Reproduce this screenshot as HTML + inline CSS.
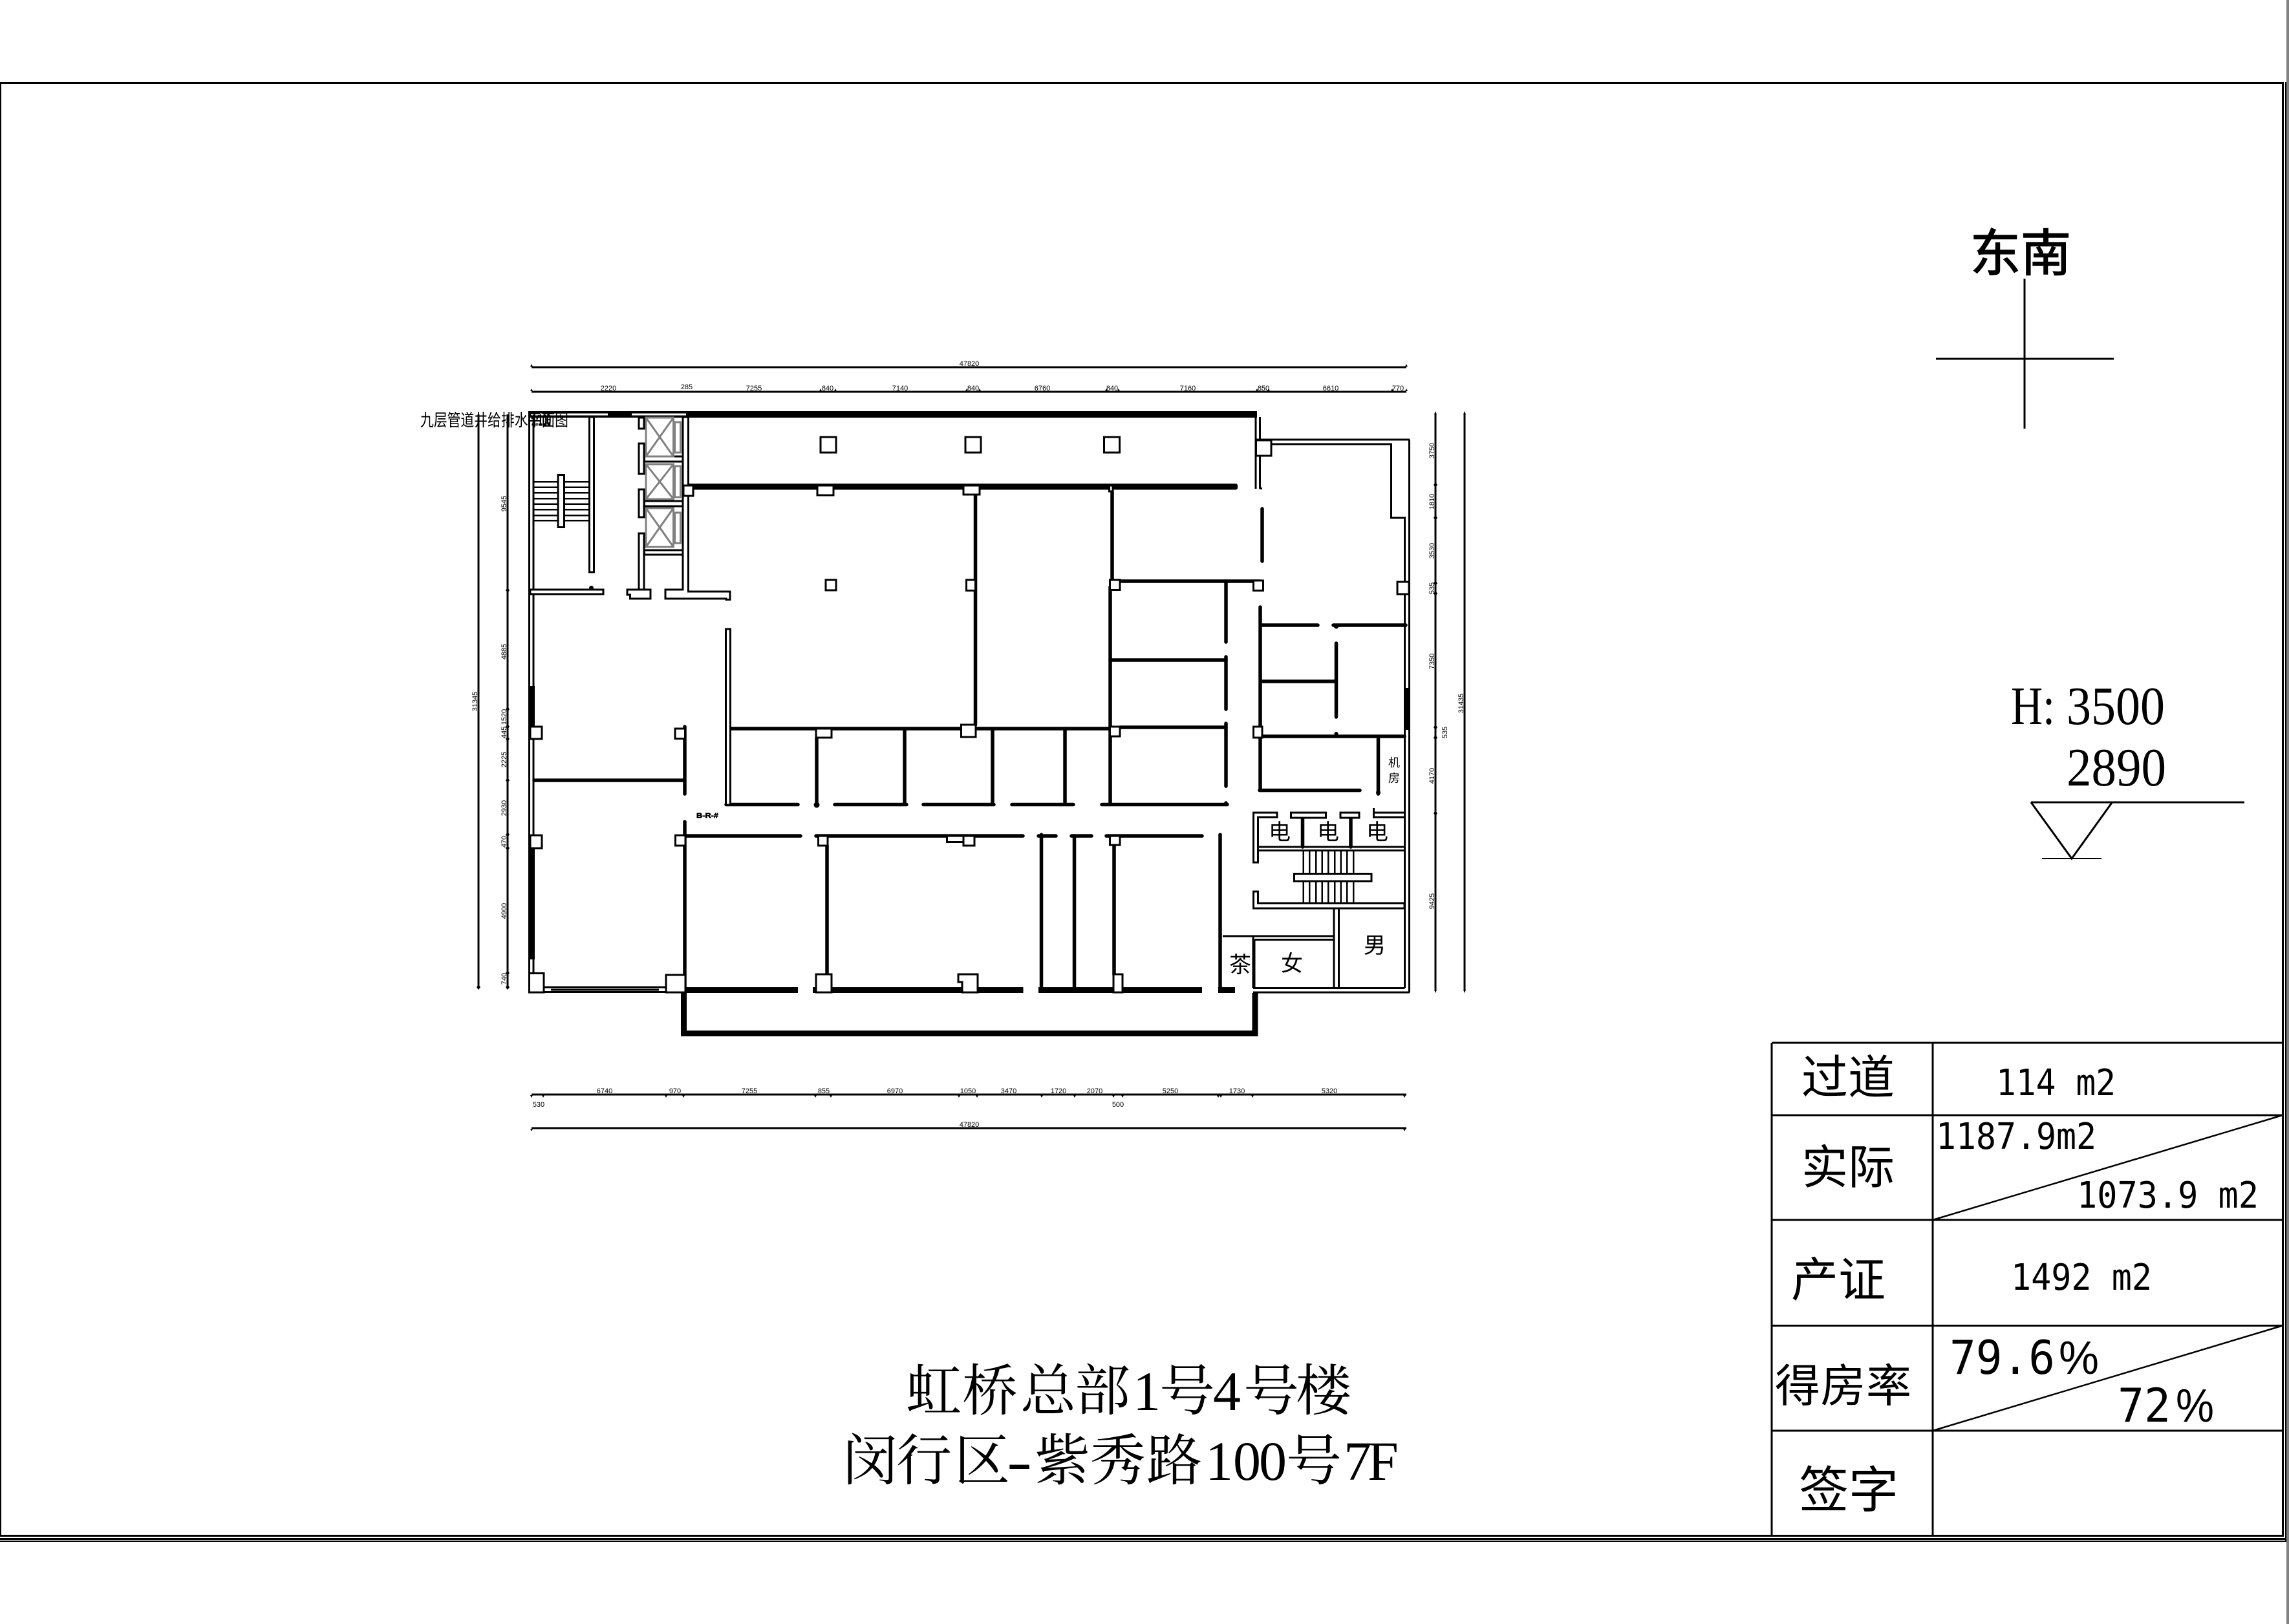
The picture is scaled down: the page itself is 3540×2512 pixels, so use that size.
<!DOCTYPE html>
<html lang="zh"><head><meta charset="utf-8"><title>虹桥总部1号4号楼</title>
<style>
html,body{margin:0;padding:0;background:#fff;width:3540px;height:2512px;overflow:hidden}
svg{display:block}
.s{font-family:"Liberation Sans","Noto Sans CJK SC",sans-serif;fill:#000}
.c{font-family:"Liberation Sans","Noto Sans CJK SC",sans-serif;fill:#000}
.sf{font-family:"Liberation Serif","Noto Serif CJK SC",serif;fill:#000}
.m{font-family:"DejaVu Sans Mono",monospace;fill:#000}
.d{font-family:"Liberation Sans",sans-serif;font-size:11px;fill:#000;text-anchor:middle}
.w{fill:#fff;stroke:#000;stroke-width:3}
</style></head><body>
<svg width="3540" height="2512" viewBox="0 0 3540 2512" xmlns="http://www.w3.org/2000/svg">
<rect width="3540" height="2512" fill="#fff"/>
<!-- page frame -->
<g shape-rendering="crispEdges" fill="#000">
<rect x="3536" y="0" width="4" height="2512" fill="#808080"/>
<rect x="0" y="127" width="3532" height="3"/>
<rect x="0" y="127" width="2" height="2250"/>
<rect x="3529" y="127" width="3" height="2250"/>
<rect x="3534" y="127" width="2" height="2258"/>
<rect x="0" y="2374" width="3532" height="3"/>
<rect x="0" y="2379" width="3536" height="3"/>
<rect x="0" y="2383" width="3536" height="2"/>
</g>
<!-- dimension lines -->
<g stroke="#000" stroke-width="3" shape-rendering="crispEdges" fill="none">
<path d="M822 568H2175M822 606H2175M822 1693H2175M822 1745H2175M740 641V1528M785 641V1528M2220 641V1531M2265 641V1531"/>
</g>
<path fill="#000" d="M820 567l2-4 2 4zM820 605l2-4 2 4zM1267 605l2-4 2 4zM1290 605l2-4 2 4zM1493 605l2-4 2 4zM1513 605l2-4 2 4zM1709 605l2-4 2 4zM1728 605l2-4 2 4zM1942 605l2-4 2 4zM1960 605l2-4 2 4zM2151 605l2-4 2 4zM2173 605l2-4 2 4zM2173 567l2-4 2 4z
M820 1694l2 4 2-4zM838 1694l2 4 2-4zM1028 1694l2 4 2-4zM1055 1694l2 4 2-4zM1259 1694l2 4 2-4zM1283 1694l2 4 2-4zM1481 1694l2 4 2-4zM1509 1694l2 4 2-4zM1609 1694l2 4 2-4zM1660 1694l2 4 2-4zM1720 1694l2 4 2-4zM1734 1694l2 4 2-4zM1882 1694l2 4 2-4zM1886 1694l2 4 2-4zM1935 1694l2 4 2-4zM2170 1694l2 4 2-4zM820 1746l2 4 2-4zM2170 1746l2 4 2-4z
M785 909l3 4-3 4-3-4zM785 1093l3 4-3 4-3-4zM785 1120l3 4-3 4-3-4zM785 1139l3 4-3 4-3-4zM785 1203l3 4-3 4-3-4zM785 1287l3 4-3 4-3-4zM785 1308l3 4-3 4-3-4zM785 1501l3 4-3 4-3-4zM785 1523l3 4-3 4-3-4zM740 1523l3 4-3 4-3-4z
M2220 636l2 5h-4zM2265 636l2 5h-4zM2220 746l3 4-3 4-3-4zM2220 797l3 4-3 4-3-4zM2220 898l3 4-3 4-3-4zM2220 914l3 4-3 4-3-4zM2220 1121l3 4-3 4-3-4zM2220 1137l3 4-3 4-3-4zM2220 1254l3 4-3 4-3-4zM2218 1531l2 5 2-5zM2263 1531l2 5 2-5z"/>
<!-- horizontal dimension labels -->
<g class="d">
<text class="d" x="1499" y="566">47820</text>
<text class="d" x="941" y="604">2220</text><text class="d" x="1062" y="602">285</text><text class="d" x="1166" y="604">7255</text><text class="d" x="1280" y="604">840</text><text class="d" x="1392" y="604">7140</text><text class="d" x="1505" y="604">840</text><text class="d" x="1612" y="604">6760</text><text class="d" x="1720" y="604">840</text><text class="d" x="1837" y="604">7160</text><text class="d" x="1954" y="604">850</text><text class="d" x="2058" y="604">6610</text><text class="d" x="2162" y="604">770</text>
<text class="d" x="935" y="1691">6740</text><text class="d" x="1044" y="1691">970</text><text class="d" x="1159" y="1691">7255</text><text class="d" x="1274" y="1691">855</text><text class="d" x="1384" y="1691">6970</text><text class="d" x="1497" y="1691">1050</text><text class="d" x="1560" y="1691">3470</text><text class="d" x="1637" y="1691">1720</text><text class="d" x="1693" y="1691">2070</text><text class="d" x="1810" y="1691">5250</text><text class="d" x="1913" y="1691">1730</text><text class="d" x="2056" y="1691">5320</text>
<text class="d" x="833" y="1712">530</text><text class="d" x="1729" y="1712">500</text><text class="d" x="1499" y="1743">47820</text>
</g>
<!-- vertical dimension labels -->
<g>
<text class="d" transform="translate(738 1085) rotate(-90)">31345</text>
<text class="d" transform="translate(783 779) rotate(-90)">9545</text>
<text class="d" transform="translate(783 1008) rotate(-90)">4885</text>
<text class="d" transform="translate(783 1109) rotate(-90)">1520</text>
<text class="d" transform="translate(783 1133) rotate(-90)">445</text>
<text class="d" transform="translate(783 1175) rotate(-90)">2225</text>
<text class="d" transform="translate(783 1250) rotate(-90)">2930</text>
<text class="d" transform="translate(783 1302) rotate(-90)">470</text>
<text class="d" transform="translate(783 1409) rotate(-90)">4900</text>
<text class="d" transform="translate(783 1514) rotate(-90)">740</text>
<text class="d" transform="translate(2218 697) rotate(-90)">3750</text>
<text class="d" transform="translate(2218 776) rotate(-90)">1810</text>
<text class="d" transform="translate(2218 852) rotate(-90)">3530</text>
<text class="d" transform="translate(2218 910) rotate(-90)">535</text>
<text class="d" transform="translate(2218 1023) rotate(-90)">7350</text>
<text class="d" transform="translate(2263 1088) rotate(-90)">31435</text>
<text class="d" transform="translate(2238 1133) rotate(-90)">535</text>
<text class="d" transform="translate(2218 1200) rotate(-90)">4170</text>
<text class="d" transform="translate(2218 1394) rotate(-90)">9425</text>
</g>
<!-- solid heavy walls -->
<g fill="#000" shape-rendering="crispEdges">
<rect x="817" y="636" width="1127" height="10"/>
<rect x="1060" y="748" width="854" height="9.500" rx="3"/>
<rect x="817" y="1061" width="10" height="63"/>
<rect x="817" y="1312" width="10" height="172"/>
<rect x="2172" y="1064" width="8" height="65"/>
<rect x="1060" y="1527" width="174" height="9"/>
<rect x="1257" y="1527" width="325.500" height="9"/>
<rect x="1606" y="1527" width="253" height="9"/>
<rect x="1884" y="1527" width="26" height="9"/>
<rect x="1053" y="1534" width="9" height="69"/>
<rect x="1936.500" y="1536" width="9" height="67"/>
<rect x="1053" y="1594" width="892.500" height="9"/>
</g>
<g fill="#fff" shape-rendering="crispEdges">
<rect x="821" y="639.500" width="119" height="3"/>
<rect x="977" y="639.500" width="84" height="3"/>
</g>
<!-- thick partition walls -->
<g stroke="#000" stroke-width="5.500" stroke-linecap="round" fill="none">
<path d="M1129 1127H1717M1732 1125H1896M1732 899H1950M1717 1021H1896M1123 1244.500H1234M1291 1244.500H1402M1428 1244.500H1537M1565 1244.500H1660M1704 1244.500H1898"/>
<path d="M1060 1293H1238M1262 1293H1582M1606 1293H1633M1657 1293H1688M1711 1293H1859"/>
<path d="M826 1207H1058M1059 1124V1228M1059 1271V1534M1279 1308V1508M1263 1141V1244M1399 1127V1244M1535 1127V1244M1647 1127V1244M1717 908V1244M1896 899V993M1896 1016V1097M1896 1119V1216M1896 1242V1244"/>
<path d="M1610.500 1291V1529M1661.500 1293V1527M1723 1306V1508M1887 1291V1527"/>
<path d="M1508.500 765V1121M1720 760V898"/>
<path d="M1949 939V1222M1949 967H2038M2062 967H2174M2066.500 995V1109M1949 1054H2066.500M1949 1139H2172M1948 1222.500H2103M2131.500 1139V1228M1952 787V868"/>
<path d="M2014.500 1265V1310M2089 1265V1310"/>
</g>
<circle cx="914.500" cy="909.500" r="3.500"/><circle cx="2066.500" cy="969" r="3.500"/><circle cx="2066.500" cy="1135" r="3"/><circle cx="1263" cy="1245" r="4.500"/><circle cx="2131.500" cy="1226" r="3.500"/>
<!-- thin outlines -->
<g stroke="#000" stroke-width="3" fill="none" shape-rendering="crispEdges">
<path d="M818.500 636V1061M825 645V912M825 919V1061M818.500 1124V1312M825 1143V1292M818.500 1484V1506M825 1484V1506"/>
<path d="M1942 636V756M1948.500 645V756M1948 755l4 1"/>
<path d="M1942 680H2180M1966 687H2151.500V801H2172.500V1528M2179.500 680V1535M1938 1528.500H2172.500M1938 1535H2180"/>
<path d="M1891 1448H2063M1940 1453.500H2063M1940 1453.500V1528M1938 1448V1528M2063 1405V1528M2070.500 1405V1528"/>
<path d="M1945.500 1310H2172M1945.500 1315.500H2172"/>
<path d="M841 1527H1030M841 1534.500H1030M852 1531H1019"/>
<path d="M2124.700 1257V1250"/>
</g>
<g stroke="#000" stroke-width="2.500" fill="none" shape-rendering="crispEdges">
<path d="M826.500 745H911M826.500 753.500H911M826.500 762H911M826.500 771H911M826.500 779.500H911M826.500 788H911M826.500 797H911M826.500 805H911"/>
<path d="M2015.500 1315.500V1351M2025 1315.500V1351M2035 1315.500V1351M2044.500 1315.500V1351M2054 1315.500V1351M2064 1315.500V1351M2073.500 1315.500V1351M2083 1315.500V1351M2093 1315.500V1351M2015.500 1363V1397M2025 1363V1397M2035 1363V1397M2044.500 1363V1397M2054 1363V1397M2064 1363V1397M2073.500 1363V1397M2083 1363V1397M2093 1363V1397"/>
</g>
<!-- white-filled wall outlines -->
<g class="w" shape-rendering="crispEdges">
<rect x="911.500" y="645" width="7" height="240"/>
<rect x="988" y="646" width="8" height="17"/><rect x="988" y="686" width="8" height="47"/><rect x="988" y="757" width="8" height="43"/><rect x="988" y="825" width="8" height="87"/>
<rect x="996.500" y="706" width="59.500" height="8"/><rect x="996.500" y="775" width="59.500" height="8"/><rect x="996.500" y="851" width="59.500" height="7"/>
<path d="M1029 912H1056V645H1064.500V915H1129V927.500H1123V926H1029Z"/>
<path d="M970 912H1006V926H974.500V920H970Z"/>
<rect x="820" y="912" width="113" height="7"/>
<rect x="863" y="734.500" width="9.500" height="81"/>
<rect x="1122.500" y="973" width="7" height="272"/>
<rect x="2001.500" y="1351.500" width="119.500" height="11.500"/>
<path d="M1975 1257H1938.500V1334H1945.500V1264H1975Z"/>
<rect x="1996.500" y="1257" width="54" height="8"/><rect x="2073" y="1257" width="29" height="8"/><rect x="2124.500" y="1257" width="48" height="7"/>
<path d="M1938.500 1379H1945.500V1397H2172V1405H1938.500Z"/>
</g>
<!-- elevators -->
<g stroke="#808080" stroke-width="3" fill="none">
<rect x="999" y="646" width="42.500" height="60"/><path d="M999 646L1041.500 706M1041.500 646L999 706"/><rect x="1043.500" y="653" width="9" height="47"/>
<rect x="999" y="718" width="42.500" height="54"/><path d="M999 718L1041.500 772M1041.500 718L999 772"/><rect x="1043.500" y="721" width="9" height="48"/>
<rect x="999" y="786" width="42.500" height="60"/><path d="M999 786L1041.500 846M1041.500 786L999 846"/><rect x="1043.500" y="793" width="9" height="47"/>
</g>
<!-- columns -->
<g class="w" shape-rendering="crispEdges">
<rect x="1269" y="676" width="24" height="24"/><rect x="1493" y="676" width="24" height="24"/><rect x="1707.500" y="676" width="24" height="24"/><rect x="1277" y="897" width="16" height="16"/>
<rect x="1057" y="751" width="15" height="16"/><rect x="1264" y="751" width="25" height="15"/><rect x="1490" y="751" width="25" height="14"/><rect x="1715.500" y="751" width="5.500" height="9"/>
<rect x="1494.500" y="897" width="14" height="16.500"/><rect x="1716.500" y="897" width="15.500" height="15.500"/><rect x="1938.500" y="898" width="15" height="15.500"/><rect x="2161" y="900" width="18" height="19"/>
<rect x="1942.500" y="681" width="23.500" height="24"/>
<rect x="1486.500" y="1121" width="22.500" height="19"/><rect x="1716.500" y="1124" width="15.500" height="15"/><rect x="1938.500" y="1124" width="13.500" height="17"/>
<rect x="1262" y="1127" width="24" height="14"/>
<rect x="820" y="1124" width="18" height="19"/><rect x="1044" y="1127" width="15.500" height="15.500"/>
<rect x="820" y="1292" width="18" height="20"/><rect x="1044.500" y="1292" width="15.500" height="16"/><rect x="1265.500" y="1293" width="14.500" height="15"/>
<rect x="818.500" y="1505.500" width="22.500" height="29.500"/><rect x="1030" y="1508" width="30" height="27"/><rect x="1262" y="1507" width="24" height="28"/>
<path d="M1482 1507H1512V1535H1488V1519H1482Z"/>
<rect x="1722" y="1507" width="14" height="28"/>
<rect x="1716.500" y="1293" width="15.500" height="14"/><rect x="1490" y="1293" width="17" height="15"/><rect x="1464.500" y="1293" width="25.500" height="9.500"/>
</g>
<!-- level mark, north cross -->
<g stroke="#000" fill="none">
<path stroke-width="3" d="M3131 431V663M2994 555H3269"/>
<path stroke-width="3" d="M3141 1241H3471M3141 1241L3204 1328L3266.500 1241"/>
<path stroke-width="2" d="M3158 1328H3250"/>
</g>
<!-- table -->
<g stroke="#000" stroke-width="3" fill="none">
<path shape-rendering="crispEdges" d="M2740 1613H3530M2740 1725H3530M2740 1887H3530M2740 2050.500H3530M2740 2213H3530M2740 1613V2375M2989 1613V2375"/>
<path stroke-width="2.500" d="M2989 1887L3530 1725M2989 2213L3530 2050.500"/>
</g>
<!-- text -->
<g class="c" font-size="70">
<text class="c" x="2786" y="1692" font-size="72">过道</text>
<text class="c" x="2786" y="1831" font-size="72">实际</text>
<text class="c" x="2770" y="2005" font-size="73">产证</text>
<text class="c" x="2745" y="2168" textLength="211" lengthAdjust="spacing">得房率</text>
<text class="c" x="2782" y="2332" font-size="77">签字</text>
</g>
<g class="m" font-size="56">
<text class="m" x="3087" y="1694" textLength="185" lengthAdjust="spacingAndGlyphs">114 m2</text>
<text class="m" x="2994" y="1777" textLength="248" lengthAdjust="spacingAndGlyphs">1187.9m2</text>
<text class="m" x="3212" y="1868" textLength="281" lengthAdjust="spacingAndGlyphs">1073.9 m2</text>
<text class="m" x="3110" y="1995" textLength="218" lengthAdjust="spacingAndGlyphs">1492 m2</text>
</g>
<g class="m" font-size="72">
<text class="m" x="3015" y="2125" textLength="163" lengthAdjust="spacingAndGlyphs">79.6</text>
<text class="m" x="3275" y="2199" textLength="82" lengthAdjust="spacingAndGlyphs">72</text>
</g>
<text class="s" x="3184" y="2125" font-size="72" textLength="62" lengthAdjust="spacingAndGlyphs">%</text>
<text class="s" x="3365" y="2199" font-size="72" textLength="59" lengthAdjust="spacingAndGlyphs">%</text>
<text class="c" x="3047" y="419" font-size="78" stroke="#000" stroke-width="1.500">东南</text>
<text class="sf" x="3110" y="1120" font-size="84" textLength="68" lengthAdjust="spacingAndGlyphs">H:</text>
<text class="sf" x="3196" y="1120" font-size="84" textLength="152" lengthAdjust="spacingAndGlyphs">3500</text>
<text class="sf" x="3196" y="1215" font-size="84" textLength="154" lengthAdjust="spacingAndGlyphs">2890</text>
<text class="sf" y="2181" font-size="86" x="1401 1488 1578 1662 1752 1793 1876 1923 2004">虹桥总部1号4号楼</text>
<text class="sf" y="2289" font-size="86" x="1303 1386 1476">闵行区</text>
<text class="sf" x="1557" y="2289" font-size="86" textLength="39" lengthAdjust="spacingAndGlyphs">-</text>
<text class="sf" y="2289" font-size="86" x="1600 1686 1773 1864 1907 1947 1989">紫秀路100号</text>
<text class="sf" y="2289" font-size="86" x="2078 2115">7F</text>
<text class="s" x="650" y="659" font-size="26" textLength="229" lengthAdjust="spacingAndGlyphs">九层管道井给排水平面图</text>
<text class="s" x="822" y="658" font-size="24" font-weight="700" stroke="#000" stroke-width="1" textLength="30" lengthAdjust="spacingAndGlyphs">1:100</text>
<text class="s" x="1077" y="1265" font-size="11" font-weight="700" stroke="#000" stroke-width=".6" textLength="34" lengthAdjust="spacingAndGlyphs">B-R-#</text>
<g class="c">
<text class="c" x="2147" y="1186" font-size="18">机</text>
<text class="c" x="2147" y="1210" font-size="18">房</text>
<text class="c" x="1962" y="1299" font-size="34">电</text>
<text class="c" x="2037" y="1299" font-size="34">电</text>
<text class="c" x="2113" y="1299" font-size="34">电</text>
<text class="c" x="1901" y="1504" font-size="34">茶</text>
<text class="c" x="1981" y="1502" font-size="34">女</text>
<text class="c" x="2109" y="1474" font-size="34">男</text>
</g>
</svg>
</body></html>
